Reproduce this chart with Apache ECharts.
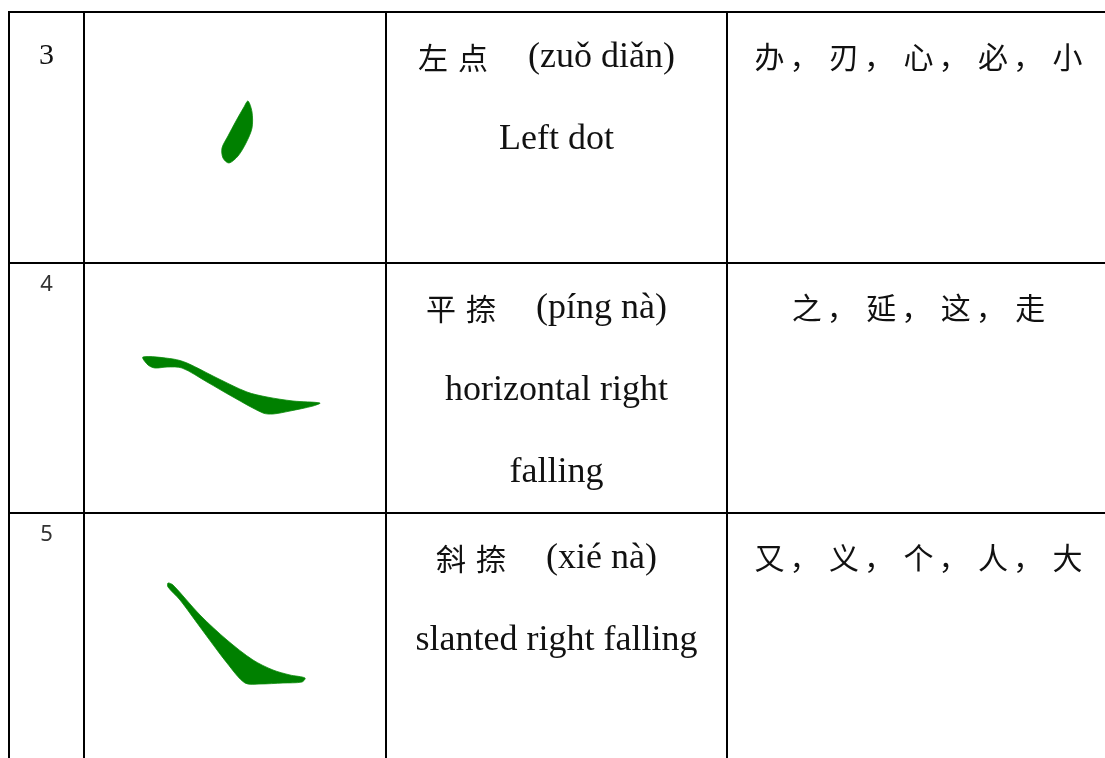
<!DOCTYPE html>
<html>
<head>
<meta charset="utf-8">
<script src="https://cdn.jsdelivr.net/npm/echarts@6/dist/echarts.min.js"></script>
<style>
  html, body { margin: 0; padding: 0; background: #fff; }
  #main { width: 1105px; height: 758px; }
</style>
</head>
<body>
<div id="main"></div>
<script>
// table content
var rowNums = ['3', '4', '5'];
var strokeNames = [['左', '点'], ['平', '捺'], ['斜', '捺']];
var pinyin = ['(zuǒ diǎn)', '(píng nà)', '(xié nà)'];
var english = [['Left dot'], ['horizontal right', 'falling'], ['slanted right falling']];
var examples = [
  ['办', '刃', '心', '必', '小'],
  ['之', '延', '这', '走'],
  ['又', '义', '个', '人', '大']
];
// stroke outlines, in the same units as the axes
var strokeLeftDot = [[248,101],[252,112],[252,128],[246,143],[238,156],[229,163],[223,158],[222,148],[228,136],[236,121],[244,107]];
var strokeFlatNa = [[143,357],[173,359],[187,363],[217,378],[247,392],[267,397],[293,401],[320,403],[313,406],[290,411],[273,414],[263,413],[233,397],[207,382],[182,368],[167,367],[155,368],[148,365]];
var strokeSlantNa = [[168,583],[173,585],[200,615],[227,640],[253,660],[273,670],[290,675],[305,678],[302,682],[283,683],[260,684],[245,683],[227,663],[200,627],[180,600],[168,587]];
var strokes = [strokeLeftDot, strokeFlatNa, strokeSlantNa];

// layout
var W = 1105, H = 758;
var colX = [9, 84, 386, 727];
var rowY = [12, 263, 513];
var HEAD_Y = 45;
var LINE_GAP = 82;
var SERIF = 'Liberation Serif';
var CJK = 'Noto Sans CJK SC';

var chart = echarts.init(document.getElementById('main'));

function tableLines(params, api) {
  var kids = [];
  rowY.forEach(function (y) {
    var a = api.coord([colX[0], y]), b = api.coord([W, y]);
    kids.push({ type: 'line', shape: { x1: a[0] - 1, y1: a[1], x2: b[0], y2: b[1] }, style: { stroke: '#000', lineWidth: 2 } });
  });
  colX.forEach(function (x) {
    var a = api.coord([x, rowY[0]]), b = api.coord([x, H]);
    kids.push({ type: 'line', shape: { x1: a[0], y1: a[1] - 1, x2: b[0], y2: b[1] }, style: { stroke: '#000', lineWidth: 2 } });
  });
  return { type: 'group', children: kids };
}

function strokeShape(params, api) {
  var pts = strokes[params.dataIndex].map(function (p) { return api.coord(p); });
  return {
    type: 'polygon',
    shape: { points: pts, smooth: 0.3 },
    style: { fill: '#008000', stroke: '#0a8a0a', lineWidth: 0.8 }
  };
}

function rowText(params, api) {
  var i = params.dataIndex;
  var top = rowY[i];
  var kids = [];
  // number column
  var np = api.coord([(colX[0] + colX[1]) / 2, top + (i === 0 ? 44 : 22)]);
  kids.push({
    type: 'text', x: np[0], y: np[1],
    style: {
      text: rowNums[i], align: 'center', verticalAlign: 'middle',
      fontFamily: i === 0 ? SERIF : 'Noto Sans', fontSize: i === 0 ? 30 : 22,
      fill: i === 0 ? '#111' : '#333'
    }
  });
  // name + pinyin
  var hp = api.coord([(colX[2] + colX[3]) / 2 - 10, top + HEAD_Y + 1]);
  kids.push({
    type: 'text', x: hp[0], y: hp[1],
    style: {
      text: '{c1|' + strokeNames[i][0] + '}{c2|' + strokeNames[i][1] + '}{lat|' + pinyin[i] + '}',
      align: 'center', verticalAlign: 'middle',
      rich: {
        c1: { fontFamily: CJK, fontSize: 30, fill: '#111', padding: [0, 10, 0, 0] },
        c2: { fontFamily: CJK, fontSize: 30, fill: '#111', padding: [0, 40, 0, 0] },
        lat: { fontFamily: SERIF, fontSize: 36, fill: '#111' }
      }
    }
  });
  english[i].forEach(function (line, k) {
    var ep = api.coord([(colX[2] + colX[3]) / 2, top + HEAD_Y + 1 + LINE_GAP * (k + 1)]);
    kids.push({
      type: 'text', x: ep[0], y: ep[1],
      style: { text: line, align: 'center', verticalAlign: 'middle', fontFamily: SERIF, fontSize: 36, fill: '#111' }
    });
  });
  // example characters
  var ex = examples[i];
  var step = 74.5;
  var mid = (colX[3] + 1110) / 2;
  var first = mid - step * (ex.length - 1) / 2;
  ex.forEach(function (ch, k) {
    var cp = api.coord([first + step * k, top + HEAD_Y]);
    kids.push({
      type: 'text', x: cp[0], y: cp[1],
      style: { text: ch, align: 'center', verticalAlign: 'middle', fontFamily: CJK, fontSize: 30, fill: '#111' }
    });
    if (k < ex.length - 1) {
      var mp = api.coord([first + step * k + 20, top + HEAD_Y]);
      kids.push({
        type: 'text', x: mp[0], y: mp[1],
        style: { text: '，', align: 'left', verticalAlign: 'middle', fontFamily: CJK, fontSize: 30, fill: '#111' }
      });
    }
  });
  return { type: 'group', children: kids };
}

var option = {
  animation: false,
  backgroundColor: '#fff',
  grid: { left: 0, right: 0, top: 0, bottom: 0 },
  xAxis: { type: 'value', min: 0, max: W, show: false },
  yAxis: { type: 'value', min: 0, max: H, inverse: true, show: false },
  series: [
    { type: 'custom', name: 'lines', renderItem: tableLines, data: [[0]], silent: true },
    { type: 'custom', name: 'strokes', renderItem: strokeShape, data: strokes.map(function (s, i) { return [i]; }), silent: true },
    { type: 'custom', name: 'text', renderItem: rowText, data: rowNums.map(function (n, i) { return [i]; }), silent: true }
  ]
};
chart.setOption(option);
</script>
</body>
</html>
